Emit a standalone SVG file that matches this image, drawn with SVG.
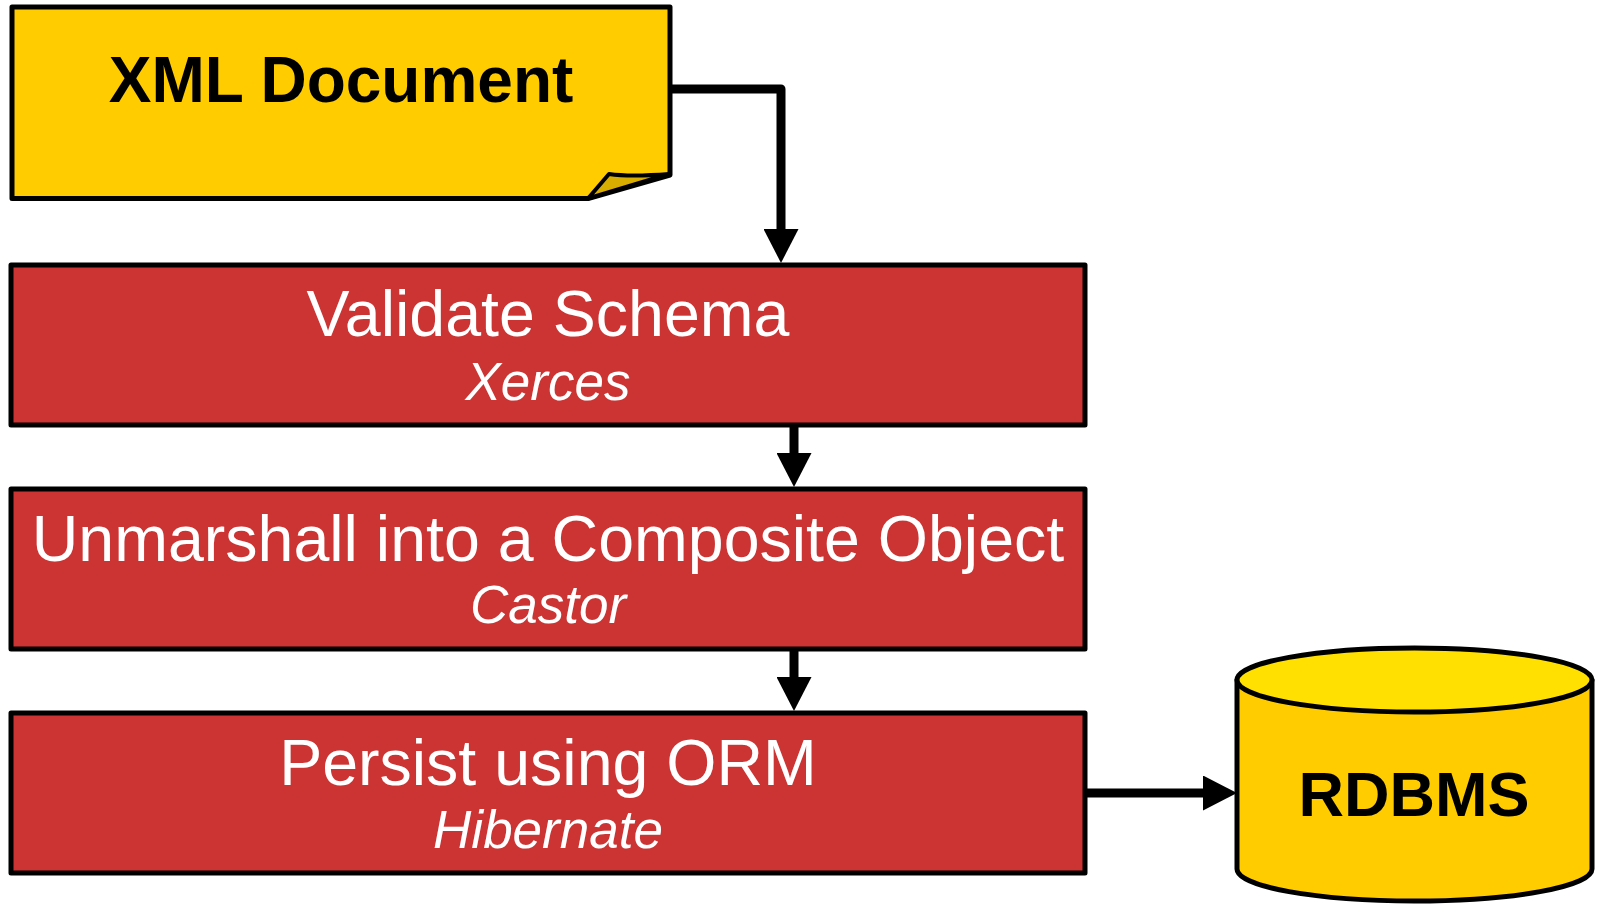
<svg xmlns="http://www.w3.org/2000/svg" width="1598" height="904" viewBox="0 0 1598 904">
<style>
.box{fill:#CC3333;stroke:#000;stroke-width:5;stroke-linejoin:round}
.yel{fill:#FFCC00;stroke:#000;stroke-width:5;stroke-linejoin:round}
.title{font-family:"Liberation Sans",Arial,sans-serif;font-size:64.5px;fill:#fff;text-anchor:middle}
.sub{font-family:"Liberation Sans",Arial,sans-serif;font-size:53px;font-style:italic;fill:#fff;text-anchor:middle}
.bold{font-family:"Liberation Sans",Arial,sans-serif;font-size:64px;font-weight:bold;fill:#000;text-anchor:middle}
.conn{fill:none;stroke:#000;stroke-width:9;stroke-linejoin:round}
</style>
<defs>
<marker id="arr" viewBox="0 0 34 35" refX="3" refY="17.5" markerWidth="34" markerHeight="35" markerUnits="userSpaceOnUse" orient="auto">
<path d="M0,0 L34,17.5 L0,35 z" fill="#000"/>
</marker>
</defs>
<g id="connectors">
<path class="conn" d="M670,89 H781 V232" marker-end="url(#arr)"/>
<path class="conn" d="M794,425 V456" marker-end="url(#arr)"/>
<path class="conn" d="M794,649 V680" marker-end="url(#arr)"/>
<path class="conn" d="M1086,793 H1206" marker-end="url(#arr)"/>
</g>
<g id="xml-document">
<path class="yel" d="M12,7 H670 V175 L588,198.5 H12 Z"/>
<path d="M588,198.5 L609,174 Q630,177 669,174 Z" fill="#D9AD00" stroke="#000" stroke-width="4" stroke-linejoin="round"/>
<text class="bold" x="341" y="102">XML Document</text>
</g>
<g id="validate-schema">
<rect class="box" x="11" y="265" width="1074" height="160"/>
<text class="title" x="548" y="336">Validate Schema</text>
<text class="sub" x="548" y="400">Xerces</text>
</g>
<g id="unmarshall">
<rect class="box" x="11" y="489" width="1074" height="160"/>
<text class="title" x="548" y="561">Unmarshall into a Composite Object</text>
<text class="sub" x="548" y="623">Castor</text>
</g>
<g id="persist">
<rect class="box" x="11" y="713" width="1074" height="160"/>
<text class="title" x="548" y="785">Persist using ORM</text>
<text class="sub" x="548" y="848">Hibernate</text>
</g>
<g id="rdbms">
<path class="yel" d="M1237,680 V869 A177.5,32 0 0 0 1592,869 V680 Z"/>
<ellipse cx="1414.5" cy="680" rx="177.5" ry="32" fill="#FFE000" stroke="#000" stroke-width="5"/>
<text class="bold" x="1414" y="816" style="font-size:63px">RDBMS</text>
</g>
</svg>
